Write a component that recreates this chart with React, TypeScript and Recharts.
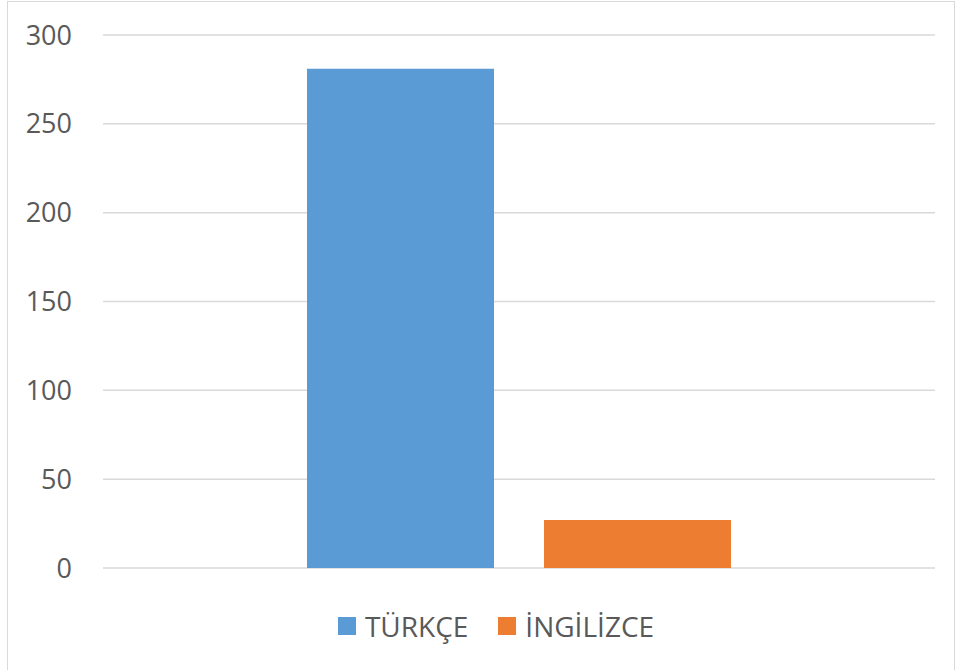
import React from 'react';
import { BarChart, Bar, XAxis, YAxis, CartesianGrid, Legend } from 'recharts';

// values
const categories = ['Dil'];
const turkceValues = [281];
const ingilizceValues = [27];
const yTicks = [0, 50, 100, 150, 200, 250, 300];

const data = categories.map((name, i) => ({
  name,
  'TÜRKÇE': turkceValues[i],
  'İNGİLİZCE': ingilizceValues[i],
}));

const font = '"Open Sans", "Liberation Sans", sans-serif';
const textColor = '#595959';

const renderLegend = (props: any) => {
  const { payload } = props;
  return (
    <div style={{ display: 'flex', justifyContent: 'center', paddingLeft: 30, fontFamily: font, fontSize: 28, color: textColor, lineHeight: '36px' }}>
      {payload.map((entry: any, i: number) => (
        <div key={`item-${i}`} style={{ display: 'flex', alignItems: 'center', marginRight: i === 0 ? 30 : 0 }}>
          <span style={{ display: 'inline-block', width: 18, height: 18, background: entry.color, marginRight: 9 }} />
          <span>{entry.value}</span>
        </div>
      ))}
    </div>
  );
};

export default function App() {
  return (
    <div
      style={{
        position: 'absolute',
        left: 7,
        top: 1,
        width: 946,
        height: 668,
        border: '1px solid #d9d9d9',
        background: '#fff',
      }}
    >
      <BarChart
        width={946}
        height={668}
        data={data}
        margin={{ top: 33, right: 19, left: 0, bottom: 66 }}
        barCategoryGap={204}
        barGap={50}
      >
        <CartesianGrid vertical={false} stroke="#d9d9d9" strokeWidth={1.5} />
        <XAxis dataKey="name" hide />
        <YAxis
          width={95}
          domain={[0, 300]}
          ticks={yTicks}
          axisLine={false}
          tickLine={false}
          tickSize={0}
          tickMargin={31}
          tick={{ fill: textColor, fontSize: 27, fontFamily: font }}
        />
        <Legend content={renderLegend} wrapperStyle={{ top: 606, left: 0, width: 946 }} />
        <Bar dataKey="TÜRKÇE" fill="#5B9BD5" isAnimationActive={false} />
        <Bar dataKey="İNGİLİZCE" fill="#ED7D31" isAnimationActive={false} />
      </BarChart>
    </div>
  );
}
